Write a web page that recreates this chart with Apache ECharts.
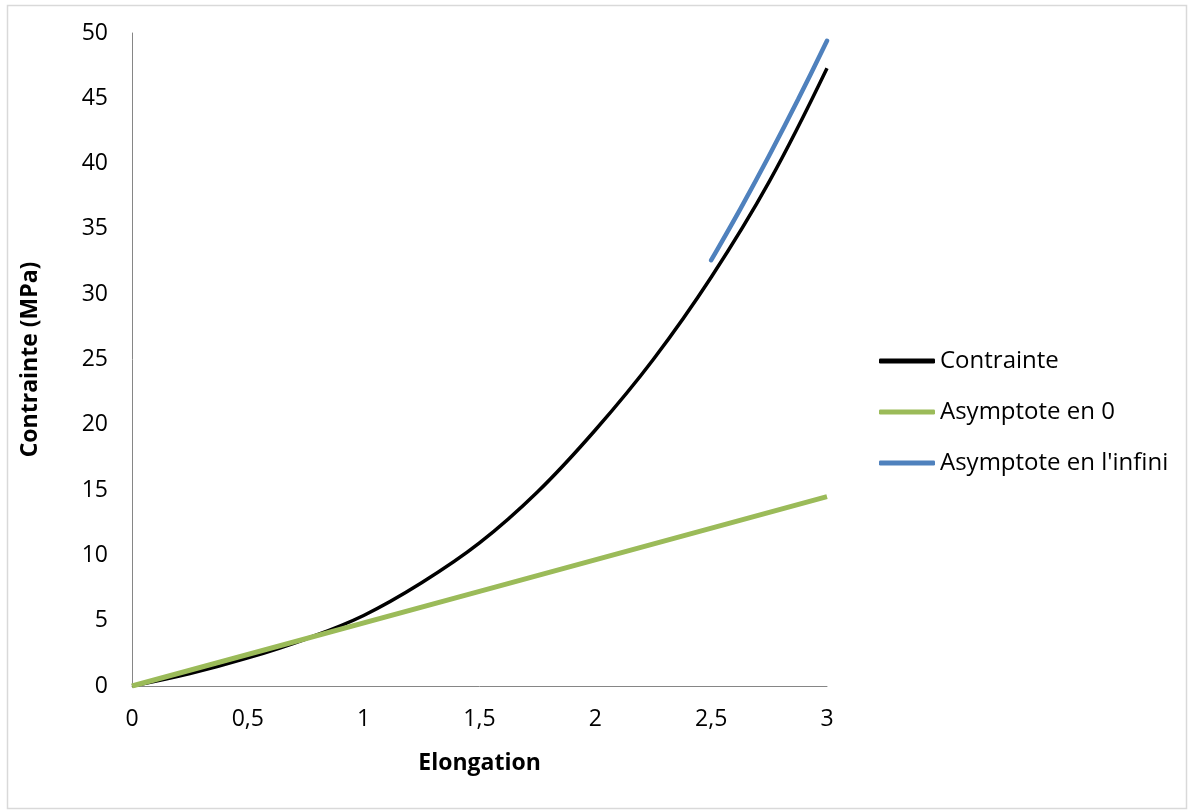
<!DOCTYPE html>
<html>
<head>
<meta charset="utf-8">
<script src="https://cdn.jsdelivr.net/npm/echarts@6/dist/echarts.min.js"></script>
<style>
html,body{margin:0;padding:0;background:#fff;}
#c{width:1188px;height:810px;}
</style>
</head>
<body>
<div id="c"></div>
<script>
// Data
var elongation = [0, 0.25, 0.5, 0.75, 1, 1.25, 1.5, 1.75, 2, 2.25, 2.5, 2.75, 3];
var contrainte = [0, 0.95, 2.15, 3.6, 5.4, 7.9, 10.95, 14.85, 19.6, 25.0, 31.3, 38.6, 47.3];
var asym0X = [0, 1.5, 3];
var asym0Y = [0, 7.25, 14.5];
var asymInfX = [2.5, 2.625, 2.75, 2.875, 3];
var asymInfY = [32.6, 36.5, 40.6, 44.9, 49.4];
var xTickLabels = ['0', '0,5', '1', '1,5', '2', '2,5', '3'];
var yTickLabels = ['0', '5', '10', '15', '20', '25', '30', '35', '40', '45', '50'];
var seriesNames = ['Contrainte', 'Asymptote en 0', "Asymptote en l'infini"];

function pairs(xs, ys) { return xs.map(function (x, i) { return [x, ys[i]]; }); }

var FONT = 'Open Sans';
var chart = echarts.init(document.getElementById('c'), null, {renderer: 'canvas'});
chart.setOption({
  animation: false,
  backgroundColor: '#ffffff',
  textStyle: {fontFamily: FONT},
  graphic: [{
    type: 'rect', left: 5, top: 3, silent: true,
    shape: {width: 1179, height: 803},
    style: {fill: 'none', stroke: '#d9d9d9', lineWidth: 1.5}
  }],
  grid: {left: 132, top: 33, width: 695, height: 653, containLabel: false},
  legend: {
    orient: 'vertical', left: 874, top: 344, itemGap: 27,
    itemWidth: 56, itemHeight: 5, icon: 'roundRect',
    textStyle: {fontFamily: FONT, fontSize: 24, color: '#000'},
    data: seriesNames
  },
  xAxis: {
    type: 'value', min: 0, max: 3, interval: 0.5,
    name: 'Elongation', nameLocation: 'middle', nameGap: 66,
    nameTextStyle: {fontFamily: FONT, fontSize: 23, fontWeight: 'bold', color: '#000'},
    axisLine: {lineStyle: {color: '#868686', width: 1}},
    axisTick: {show: false},
    splitLine: {show: false},
    axisLabel: {
      margin: 22, fontSize: 23, color: '#000', fontFamily: FONT,
      formatter: function (v) { return xTickLabels[Math.round(v / 0.5)]; }
    }
  },
  yAxis: {
    type: 'value', min: 0, max: 50, interval: 5,
    name: 'Contrainte (MPa)', nameLocation: 'middle', nameGap: 90,
    nameTextStyle: {fontFamily: FONT, fontSize: 23, fontWeight: 'bold', color: '#000'},
    axisLine: {show: true, lineStyle: {color: '#868686', width: 1}},
    axisTick: {show: false},
    splitLine: {show: false},
    axisLabel: {
      margin: 24, fontSize: 23, color: '#000', fontFamily: FONT,
      formatter: function (v) { return yTickLabels[Math.round(v / 5)]; }
    }
  },
  series: [
    {
      name: seriesNames[0], type: 'line', data: pairs(elongation, contrainte),
      smooth: 0.4, symbol: 'none', color: '#000000',
      lineStyle: {color: '#000000', width: 3.5}
    },
    {
      name: seriesNames[1], type: 'line', data: pairs(asym0X, asym0Y),
      symbol: 'none', color: '#9bbb59',
      lineStyle: {color: '#9bbb59', width: 5}
    },
    {
      name: seriesNames[2], type: 'line', data: pairs(asymInfX, asymInfY),
      smooth: 0.3, symbol: 'none', color: '#4f81bd',
      lineStyle: {color: '#4f81bd', width: 4.5, cap: 'round'}
    }
  ]
});
</script>
</body>
</html>
